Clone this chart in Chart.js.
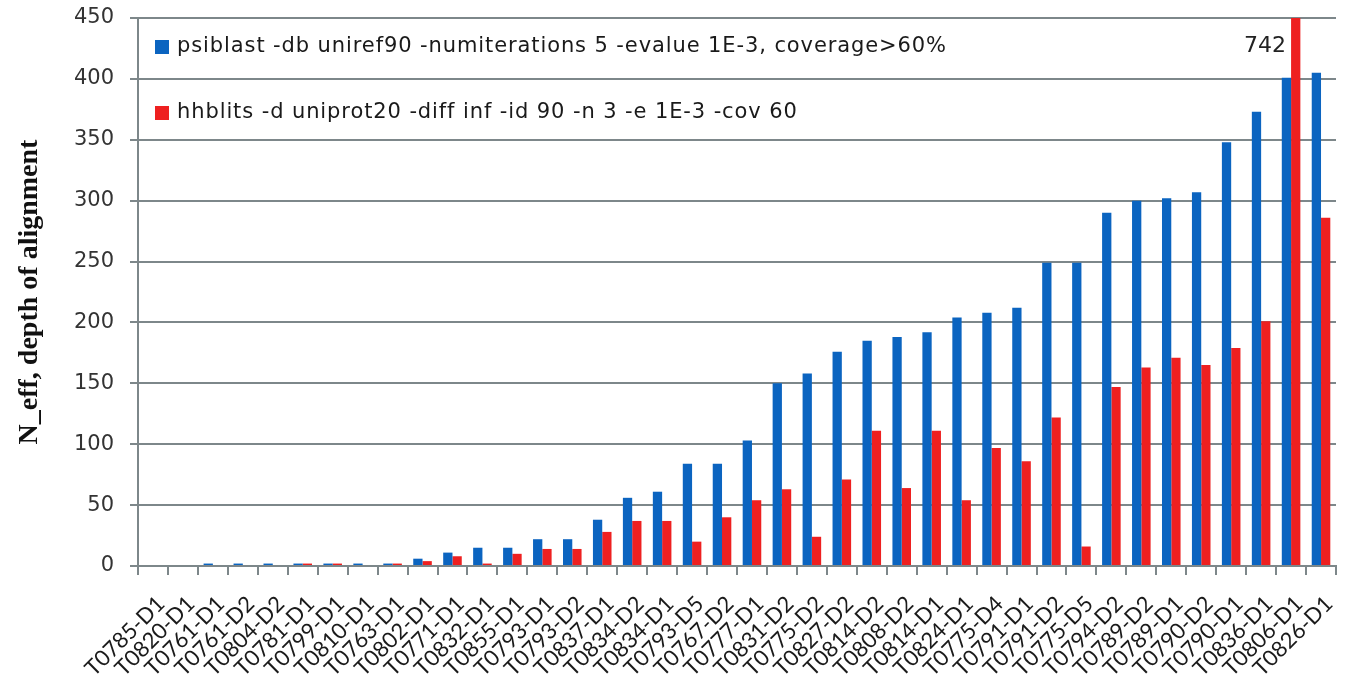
<!DOCTYPE html>
<html><head><meta charset="utf-8">
<script src="https://cdn.jsdelivr.net/npm/chart.js@4/dist/chart.umd.min.js"></script>
<style>html,body{margin:0;padding:0;background:#fff;} #wrap{width:1345px;height:694px;position:relative;}</style>
</head><body><div id="wrap"><canvas id="c"></canvas></div>
<script>
const categories = ['T0785-D1','T0820-D1','T0761-D1','T0761-D2','T0804-D2','T0781-D1','T0799-D1','T0810-D1','T0763-D1','T0802-D1',
  'T0771-D1','T0832-D1','T0855-D1','T0793-D1','T0793-D2','T0837-D1','T0834-D2','T0834-D1','T0793-D5','T0767-D2',
  'T0777-D1','T0831-D2','T0775-D2','T0827-D2','T0814-D2','T0808-D2','T0814-D1','T0824-D1','T0775-D4','T0791-D1',
  'T0791-D2','T0775-D5','T0794-D2','T0789-D2','T0789-D1','T0790-D2','T0790-D1','T0836-D1','T0806-D1','T0826-D1'];
const psiblast = [0,0,2,2,2,2,2,2,2,6,
  11,15,15,22,22,38,56,61,84,84,
  103,150,158,176,185,188,192,204,208,212,
  249,249,290,300,302,307,348,373,401,405];
const hhblits = [0,0,0,0,0,2,2,0,2,4,
  8,2,10,14,14,28,37,37,20,40,
  54,63,24,71,111,64,111,54,97,86,
  122,16,147,163,171,165,179,201,742,286];
const seriesLabels = ['psiblast -db uniref90 -numiterations 5 -evalue 1E-3, coverage>60%',
  'hhblits -d uniprot20 -diff inf -id 90 -n 3 -e 1E-3 -cov 60'];
const yTickValues = [0,50,100,150,200,250,300,350,400,450];
const yTitle = 'N_eff, depth of alignment';
const clippedLabel = '742';

const BLUE = '#0b64c0', RED = '#ee2020', GRID = '#7d878a';

const legendPlugin = {
  id: 'insideLegend',
  afterDraw(chart) {
    const ctx = chart.ctx, a = chart.chartArea;
    ctx.save();
    ctx.font = '21px "DejaVu Sans"';
    ctx.letterSpacing = '0.9px';
    ctx.textBaseline = 'middle';
    const rows = [a.top + 29, a.top + 95];
    chart.data.datasets.forEach((ds, i) => {
      ctx.fillStyle = ds.backgroundColor;
      ctx.fillRect(a.left + 17, rows[i] - 7, 14, 14);
      ctx.fillStyle = '#1a1a1a';
      ctx.fillText(ds.label, a.left + 39, rows[i]);
    });
    ctx.letterSpacing = '0px';
    // value label for the clipped bar
    const meta = chart.getDatasetMeta(1);
    const idx = hhblits.findIndex(v => v > yTickValues[yTickValues.length - 1]);
    if (idx >= 0) {
      const el = meta.data[idx];
      ctx.font = '22px "DejaVu Sans"';
      ctx.textAlign = 'right';
      ctx.fillStyle = '#222';
      ctx.fillText(clippedLabel, el.x - el.width / 2 - 5, a.top + 28);
    }
    ctx.restore();
  }
};

new Chart(document.getElementById('c'), {
  type: 'bar',
  data: {
    labels: categories,
    datasets: [
      { label: seriesLabels[0], data: psiblast, backgroundColor: BLUE, categoryPercentage: 0.62, barPercentage: 1.0 },
      { label: seriesLabels[1], data: hhblits, backgroundColor: RED, categoryPercentage: 0.62, barPercentage: 1.0 }
    ]
  },
  options: {
    responsive: true, maintainAspectRatio: false, animation: false,
    layout: { padding: { top: 18, right: 9, left: 0, bottom: 0 } },
    plugins: { legend: { display: false }, tooltip: { enabled: false } },
    scales: {
      x: {
        grid: { display: true, offset: true, drawOnChartArea: false, drawTicks: true, tickLength: 9, color: GRID, lineWidth: 2 },
        border: { display: true, color: GRID, width: 2 },
        ticks: { autoSkip: false, maxRotation: 45, minRotation: 45, color: '#1a1a1a', font: { family: 'Lato', size: 22 }, padding: 16, labelOffset: 8 },
        afterFit(s) { s.height = 128; s.paddingLeft = 0; s.paddingRight = 0; }
      },
      y: {
        min: 0, max: 450,
        afterBuildTicks(s) { s.ticks = yTickValues.map(v => ({ value: v })); },
        grid: { color: GRID, lineWidth: 2, tickLength: 8 },
        border: { display: true, color: GRID, width: 2 },
        ticks: { color: '#333', font: { family: 'DejaVu Sans', size: 21 }, padding: 16 },
        title: { display: true, text: yTitle, color: '#111', font: { family: 'Liberation Serif', weight: 'bold', size: 28 }, padding: { top: 13, bottom: 0 } },
        afterFit(s) { s.width = 138; s.paddingTop = 0; s.paddingBottom = 0; }
      }
    }
  },
  plugins: [legendPlugin]
});
</script></body></html>
